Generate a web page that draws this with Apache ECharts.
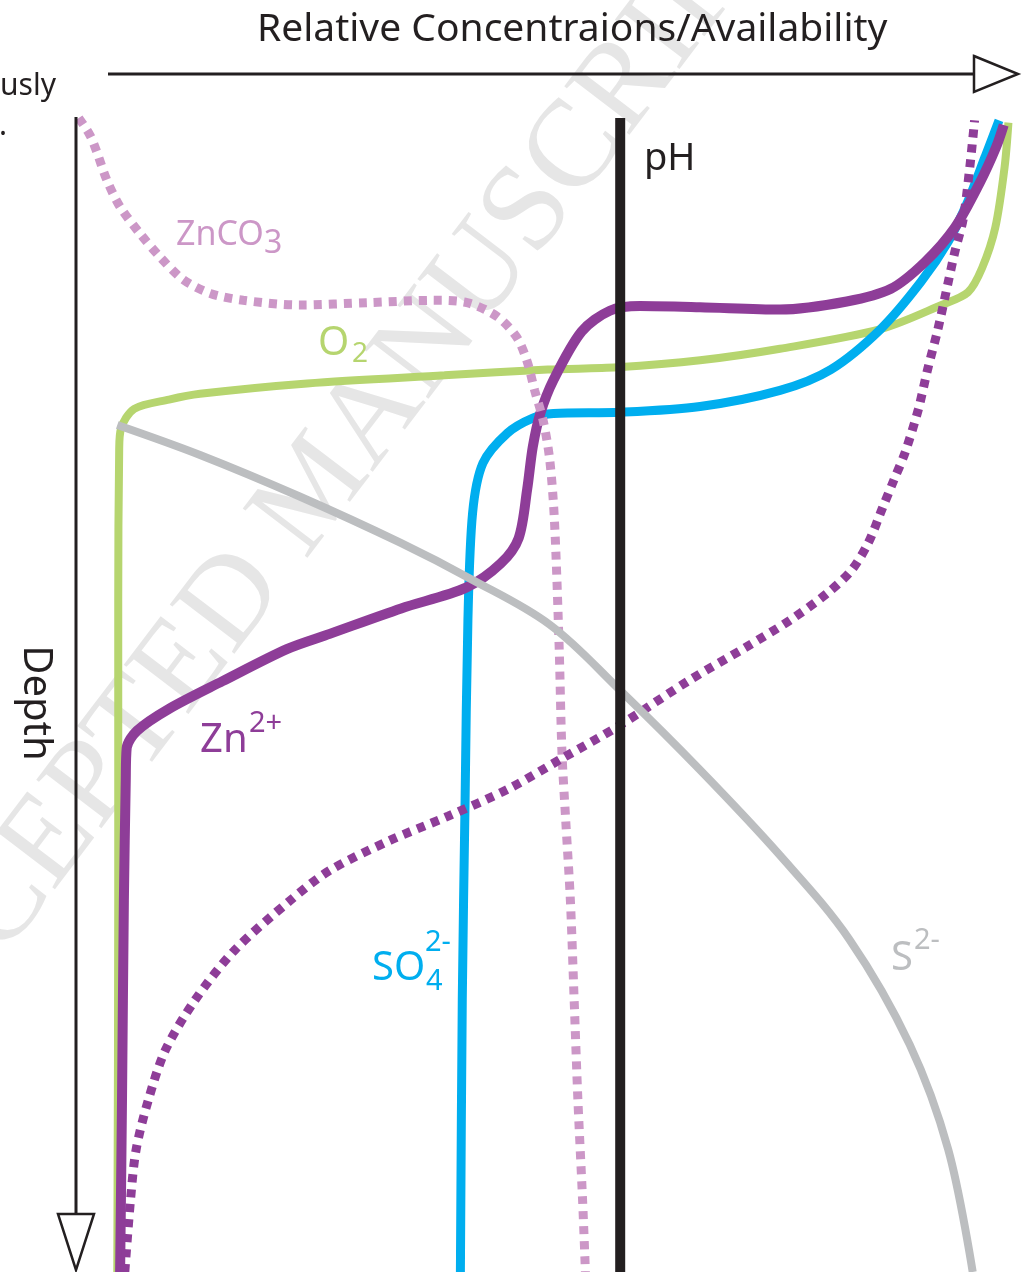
<!DOCTYPE html>
<html>
<head>
<meta charset="utf-8">
<script src="https://cdn.jsdelivr.net/npm/echarts@6/dist/echarts.min.js"></script>
<style>html,body{margin:0;padding:0;background:#fff;}#chart{width:1032px;height:1272px;}</style>
</head>
<body>
<div id="chart"></div>
<script>
// Relative concentration (0-100, left to right) vs depth (0-100, top to bottom)
const o2 = [[4.5,100],[4.6,67.8],[4.6,41.8],[4.7,28.8],[4.9,26.9],[6.3,25.2],[10.0,24.4],[13.3,23.9],[24.7,23.0],[39.3,22.3],[50.3,21.8],[57.7,21.6],[66.5,21.0],[75.0,20.0],[85.7,18.3],[92.2,16.2],[95.0,15.1],[96.5,13.0],[97.9,9.5],[98.9,4.2],[99.3,0.4]];
const so4 = [[41.0,100],[41.2,76.4],[41.5,59.1],[41.8,43.5],[42.3,34.2],[43.4,29.9],[46.0,27.3],[48.7,26.0],[50.9,25.6],[58.0,25.5],[66.5,25.0],[75.0,23.6],[80.4,21.8],[85.7,18.3],[90.0,14.2],[92.9,10.7],[95.0,7.2],[96.8,3.4],[98.3,0.2]];
const zn = [[4.8,100],[5.0,85.1],[5.2,67.8],[5.4,57.4],[5.5,54.6],[6.6,53.1],[10.0,51.2],[15.7,48.8],[22.6,46.0],[27.1,44.7],[34.7,42.5],[41.6,40.7],[45.3,38.6],[47.2,36.4],[48.1,32.2],[48.7,28.5],[49.5,25.6],[50.9,22.7],[53.9,18.5],[56.9,16.7],[60.1,16.3],[66.5,16.4],[75.0,16.6],[82.1,15.9],[86.8,14.8],[90.4,12.5],[93.6,9.5],[96.2,5.7],[98.0,2.5],[98.8,0.6]];
const znco3 = [[0.4,0],[1.6,1.5],[2.3,2.9],[3.4,5.4],[4.8,7.7],[6.9,10.0],[9.0,12.0],[11.5,14.0],[14.4,15.2],[17.9,15.8],[23.9,16.2],[31.1,16.0],[38.1,15.8],[41.7,16.0],[44.9,17.2],[47.0,19.0],[48.1,21.1],[48.9,23.6],[49.8,26.2],[50.5,29.6],[51.0,34.8],[51.5,45.7],[51.8,54.9],[52.2,60.8],[52.7,67.8],[53.1,76.4],[53.5,85.1],[54.0,93.8],[54.3,100]];
const znDotted = [[5.3,100],[5.9,93.8],[6.5,89.4],[7.8,85.1],[9.6,80.8],[12.8,76.4],[17.0,72.1],[22.9,67.8],[27.1,65.2],[33.5,62.6],[39.7,60.5],[46.2,58.1],[51.8,55.5],[57.6,52.8],[65.4,48.7],[71.3,45.9],[76.1,43.5],[80.0,41.2],[82.6,39.2],[84.4,36.8],[85.9,33.8],[87.1,31.4],[88.3,29.0],[89.7,25.3],[90.7,21.8],[91.8,18.3],[92.9,14.2],[93.6,11.6],[94.5,8.7],[95.2,4.2],[95.7,0.2]];
const s2 = [[4.5,26.6],[13.3,29.2],[23.9,32.8],[34.6,36.8],[42.0,39.9],[50.5,43.9],[58.0,49.6],[66.5,56.5],[75.0,63.9],[82.4,71.2],[88.8,80.3],[92.9,89.4],[95.5,100]];
const ph = [[58.0,0],[58.0,100]];

const FONT = '"Noto Sans", "Open Sans", sans-serif';
const C = {o2:'#b6d56f', so4:'#00aeef', zn:'#8e3d98', znco3:'#cc97c7', s2:'#bcbec0', ph:'#231f20'};

const chart = echarts.init(document.getElementById('chart'), null, {renderer:'canvas'});

function solid(name, data, color, width, sm) {
  return {name, type:'line', data, symbol:'none', smooth:sm||0.3, lineStyle:{color, width, cap:'butt'}, silent:true};
}
function dotted(name, data, color, width) {
  return {name, type:'line', data, symbol:'none', smooth:0.3, lineStyle:{color, width, type:[8,7], cap:'butt'}, silent:true};
}
function txt(text, x, y, size, color, align) {
  return {type:'text', x, y, z:20, style:{text, fill:color, font: size + 'px ' + FONT, textAlign:align||'left', textVerticalAlign:'top'}};
}

const option = {
  animation:false,
  backgroundColor:'#fff',
  grid:{left:75, right:17, top:118, bottom:0},
  xAxis:{type:'value', min:0, max:100, show:false},
  yAxis:{type:'value', min:0, max:100, inverse:true, show:false},
  series:[
    solid('O2', o2, C.o2, 8),
    solid('SO4', so4, C.so4, 9),
    solid('Zn2+', zn, C.zn, 10),
    dotted('ZnCO3', znco3, C.znco3, 9),
    dotted('Zn dotted', znDotted, C.zn, 9),
    solid('S2-', s2, C.s2, 8, 0.35),
    {name:'pH', type:'line', data:ph, symbol:'none', lineStyle:{color:C.ph, width:10}, silent:true, z:5}
  ],
  graphic:[
    {type:'text', x:318, y:490, rotation:0.92, z:-1, style:{text:'ACCEPTED MANUSCRIPT', fill:'#e6e6e6', font:'124px "Liberation Serif", serif', textAlign:'center', textVerticalAlign:'middle'}},
    // horizontal axis arrow
    {type:'line', z:20, shape:{x1:108, y1:74, x2:974, y2:74}, style:{stroke:'#231f20', lineWidth:3}},
    {type:'polygon', z:20, shape:{points:[[974,56],[1018,74],[974,92]]}, style:{fill:'#fff', stroke:'#231f20', lineWidth:2.5}},
    // vertical axis arrow
    {type:'line', z:20, shape:{x1:76, y1:117, x2:76, y2:1214}, style:{stroke:'#231f20', lineWidth:3}},
    {type:'polygon', z:20, shape:{points:[[58,1214],[94,1214],[76,1270]]}, style:{fill:'#fff', stroke:'#231f20', lineWidth:2.5}},
    // texts
    txt('Relative Concentraions/Availability', 257, 10, 39, '#231f20'),
    txt('previously', 56, 71, 30, '#231f20', 'right'),
    txt('text.', 7, 111, 30, '#231f20', 'right'),
    {type:'text', x:55, y:703, rotation:-Math.PI/2, z:20, style:{text:'Depth', fill:'#231f20', font:'40px '+FONT, textAlign:'center', textVerticalAlign:'top'}},
    txt('pH', 644, 140, 38, '#231f20'),
    txt('ZnCO', 176, 218, 34, C.znco3),
    txt('3', 264, 228, 32, C.znco3),
    txt('O', 318, 324, 40, C.o2),
    txt('2', 352, 340, 28, C.o2),
    txt('Zn', 200, 721, 40, C.zn),
    txt('2+', 249, 709, 29, C.zn),
    txt('SO', 372, 949, 40, C.so4),
    txt('4', 426, 967, 29, C.so4),
    txt('2-', 425, 928, 29, C.so4),
    txt('S', 891, 939, 40, C.s2),
    txt('2-', 914, 926, 29, C.s2)
  ]
};
chart.setOption(option);
</script>
</body>
</html>
